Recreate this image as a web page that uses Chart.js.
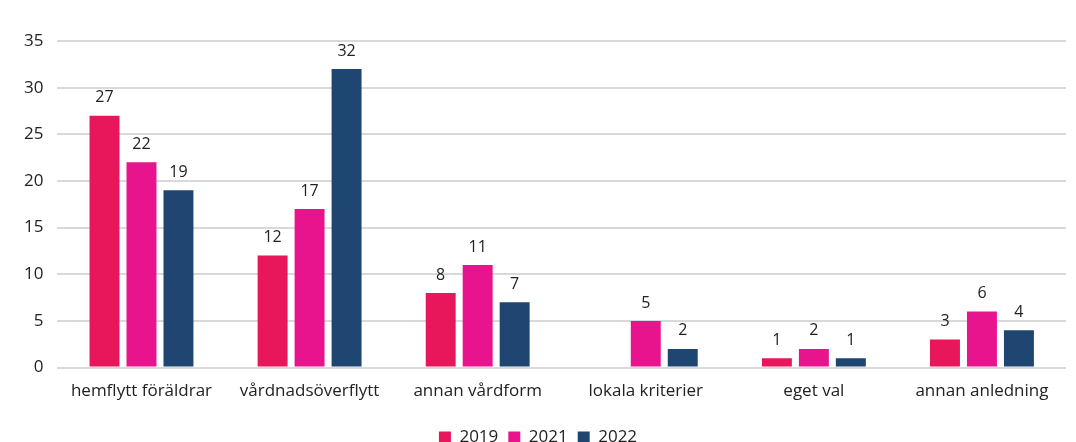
<!DOCTYPE html>
<html>
<head>
<meta charset="utf-8">
<script src="https://cdn.jsdelivr.net/npm/chart.js@4"></script>
<style>
html,body{margin:0;padding:0;background:#fff;}
#wrap{position:relative;width:1076px;height:442px;}
</style>
</head>
<body>
<div id="wrap"><canvas id="c" width="1076" height="442"></canvas></div>
<script>
const categories = ["hemflytt föräldrar", "vårdnadsöverflytt", "annan vårdform", "lokala kriterier", "eget val", "annan anledning"];
const seriesNames = ["2019", "2021", "2022"];
const values2019 = [27, 12, 8, null, 1, 3];
const values2021 = [22, 17, 11, 5, 2, 6];
const values2022 = [19, 32, 7, 2, 1, 4];
const yTicks = [0, 5, 10, 15, 20, 25, 30, 35];

const colors = ["#E8175B", "#E8148D", "#1F4670"];
const FONT = "'Open Sans', 'Liberation Sans', sans-serif";

const labelPlugin = {
  id: 'valueLabels',
  afterDatasetsDraw(chart) {
    const ctx = chart.ctx;
    ctx.save();
    ctx.font = "16px " + FONT;
    ctx.fillStyle = "#222";
    ctx.textAlign = "center";
    ctx.textBaseline = "bottom";
    chart.data.datasets.forEach((ds, i) => {
      const meta = chart.getDatasetMeta(i);
      meta.data.forEach((bar, j) => {
        const v = ds.data[j];
        if (v === null || v === undefined) return;
        ctx.fillText(String(v), bar.x, bar.y - 10);
      });
    });
    ctx.restore();
  }
};

new Chart(document.getElementById('c'), {
  type: 'bar',
  data: {
    labels: categories,
    datasets: [
      { label: seriesNames[0], data: values2019, backgroundColor: colors[0] },
      { label: seriesNames[1], data: values2021, backgroundColor: colors[1] },
      { label: seriesNames[2], data: values2022, backgroundColor: colors[2] }
    ]
  },
  options: {
    responsive: false,
    animation: false,
    layout: { padding: { top: 41, right: 10, left: 10, bottom: -14 } },
    datasets: { bar: { categoryPercentage: 0.66, barPercentage: 0.81 } },
    scales: {
      x: {
        grid: { display: false },
        border: { display: false },
        ticks: { color: "#222", font: { family: FONT, size: 17 }, padding: 5 },
        afterFit(scale) { scale.height += 13; }
      },
      y: {
        min: 0, max: 35,
        afterBuildTicks(axis) { axis.ticks = yTicks.map(v => ({ value: v })); },
        grid: { color: "#d9d9d9", lineWidth: 2, drawTicks: false },
        border: { display: false },
        ticks: { color: "#222", font: { family: FONT, size: 17 }, padding: 14 }
      }
    },
    plugins: {
      legend: {
        position: 'bottom',
        labels: { color: "#222", font: { family: FONT, size: 17 }, boxWidth: 12, boxHeight: 12, padding: 10 }
      },
      tooltip: { enabled: false }
    }
  },
  plugins: [labelPlugin]
});
</script>
</body>
</html>
